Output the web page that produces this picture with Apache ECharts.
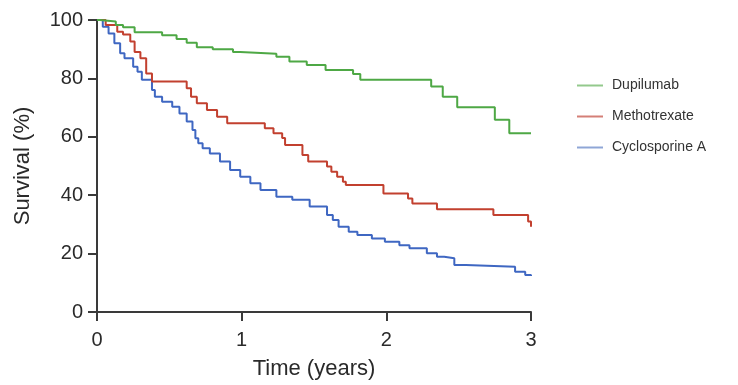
<!DOCTYPE html>
<html><head><meta charset="utf-8">
<script src="https://cdn.jsdelivr.net/npm/echarts@6/dist/echarts.min.js"></script>
<style>html,body{margin:0;padding:0;background:#fff;}#c{width:738px;height:385px;}</style>
</head><body><div id="c"></div>
<script>
const seriesNames = ['Dupilumab', 'Methotrexate', 'Cyclosporine A'];
const xTicks = [0, 1, 2, 3];
const yTicks = [0, 20, 40, 60, 80, 100];

const dupTime = [0, 0.02, 0.13, 0.18, 0.26, 0.45, 0.55, 0.62, 0.69, 0.80, 0.94, 0.99, 1.24, 1.33, 1.45, 1.58, 1.77, 1.82, 2.31, 2.39, 2.49, 2.75, 2.85, 3.0];
const dupSurv = [100, 99.5, 98.3, 97.5, 95.8, 94.8, 93.5, 92.2, 90.7, 90.0, 89.0, 88.4, 87.4, 85.8, 84.6, 82.9, 81.5, 79.5, 77.2, 73.7, 70.1, 65.8, 61.2, 61.2];

const mtxTime = [0, 0.06, 0.14, 0.18, 0.23, 0.26, 0.30, 0.34, 0.38, 0.62, 0.65, 0.69, 0.76, 0.83, 0.90, 1.16, 1.22, 1.28, 1.30, 1.42, 1.46, 1.59, 1.62, 1.66, 1.70, 1.72, 1.98, 2.15, 2.18, 2.35, 2.74, 2.98, 3.0];
const mtxSurv = [100, 98.3, 96, 95, 92.6, 89, 86.9, 81.7, 78.9, 76.6, 73.7, 71.5, 69.2, 66.9, 64.6, 62.9, 61.2, 59.6, 57.2, 53.8, 51.5, 49.8, 48.0, 46.3, 44.6, 43.5, 40.6, 38.9, 37.2, 35.2, 33.2, 31.0, 29.2];

const cycTime = [0, 0.04, 0.08, 0.12, 0.16, 0.19, 0.25, 0.28, 0.31, 0.38, 0.40, 0.45, 0.52, 0.57, 0.62, 0.66, 0.68, 0.70, 0.73, 0.78, 0.85, 0.92, 0.99, 1.06, 1.13, 1.24, 1.35, 1.47, 1.59, 1.63, 1.67, 1.74, 1.80, 1.90, 1.99, 2.09, 2.16, 2.28, 2.35, 2.40, 2.47, 2.55, 2.89, 2.96, 3.0];
const cycSurv = [100, 97.7, 95.4, 92, 88.6, 86.9, 84, 82.3, 79.5, 76, 73.7, 72, 70.3, 68, 65.2, 62.3, 59.5, 57.8, 56.1, 54.3, 51.5, 48.6, 46.3, 44.1, 41.8, 39.5, 38.4, 36.1, 33.2, 31.5, 29.2, 27.5, 26.4, 25.2, 24.1, 22.9, 21.8, 20.1, 18.9, 18.4, 16.1, 15.5, 13.8, 12.7, 12.3];

const lineColors = ['#4ea845', '#c2402f', '#3f67c2'];
const legendColors = ['#93c98c', '#d47f77', '#8fa6d6'];

function pairs(t, s) { return t.map((v, i) => [v, s[i]]); }
const allData = [pairs(dupTime, dupSurv), pairs(mtxTime, mtxSurv), pairs(cycTime, cycSurv)];

const font = 'Liberation Sans, Arial, sans-serif';
const chart = echarts.init(document.getElementById('c'), null, {renderer: 'canvas'});
chart.setOption({
  animation: false,
  backgroundColor: '#ffffff',
  grid: {left: 97, right: 207, top: 20, bottom: 73, containLabel: false},
  legend: {
    orient: 'vertical', left: 572, top: 72,
    itemWidth: 26, itemHeight: 2, itemGap: 14,
    icon: 'rect',
    textStyle: {fontFamily: font, fontSize: 14, color: '#333', lineHeight: 17, padding: [0, 0, 0, 4]},
    data: seriesNames.map((n, i) => ({name: n, itemStyle: {color: legendColors[i]}}))
  },
  xAxis: {
    type: 'value', min: 0, max: 3, interval: 1,
    name: 'Time (years)', nameLocation: 'middle', nameGap: 46,
    nameTextStyle: {fontFamily: font, fontSize: 22, color: '#2a2a2a'},
    axisLine: {show: true, lineStyle: {color: '#3a3a3a', width: 2}},
    axisTick: {show: true, length: 9, lineStyle: {color: '#3a3a3a', width: 2}},
    axisLabel: {fontFamily: font, fontSize: 20, color: '#2a2a2a', margin: 18,
      formatter: v => xTicks.includes(v) ? String(v) : ''},
    splitLine: {show: false}
  },
  yAxis: {
    type: 'value', min: 0, max: 100, interval: 20,
    name: 'Survival (%)', nameLocation: 'middle', nameGap: 63,
    nameTextStyle: {fontFamily: font, fontSize: 22, color: '#2a2a2a'},
    axisLine: {show: true, lineStyle: {color: '#3a3a3a', width: 2}},
    axisTick: {show: true, length: 9, lineStyle: {color: '#3a3a3a', width: 2}},
    axisLabel: {fontFamily: font, fontSize: 20, color: '#2a2a2a', margin: 14,
      formatter: v => yTicks.includes(v) ? String(v) : ''},
    splitLine: {show: false}
  },
  series: seriesNames.map((n, i) => ({
    name: n, type: 'line', step: 'end', data: allData[i],
    showSymbol: false, symbol: 'none',
    lineStyle: {color: lineColors[i], width: 2},
    itemStyle: {color: lineColors[i]},
    z: 3 - i
  }))
});
</script>
</body></html>
